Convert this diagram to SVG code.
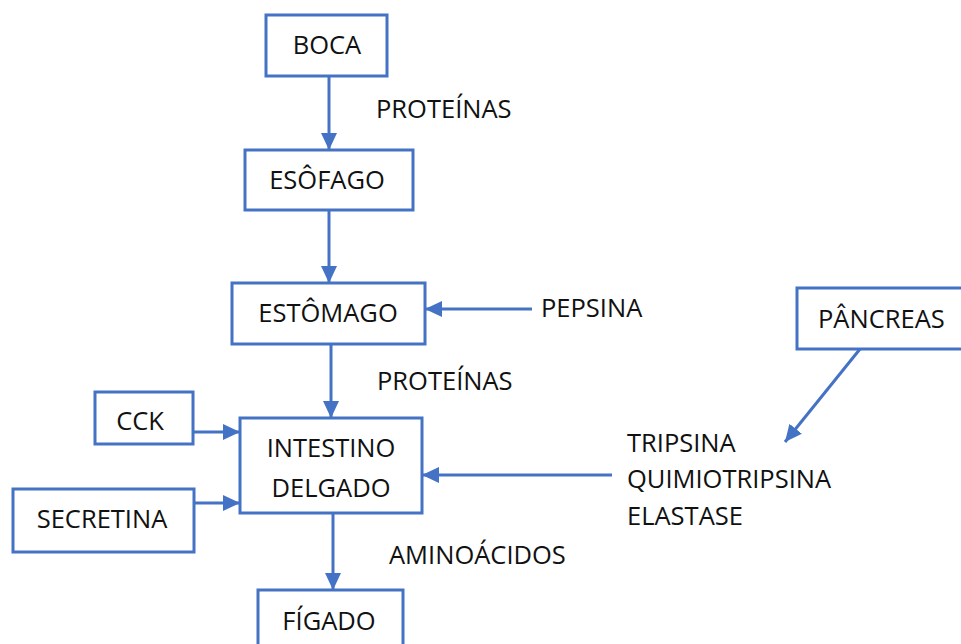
<svg xmlns="http://www.w3.org/2000/svg" width="961" height="644" viewBox="0 0 961 644">
<style>
.box{fill:#fff;stroke:#4472C4;stroke-width:3}
.lbl{font-family:"Open Sans","Liberation Sans",Arial,sans-serif;font-size:25.5px;fill:#111}
.c{text-anchor:middle}
.ln{stroke:#4472C4;stroke-width:3;fill:none;marker-end:url(#ah)}
</style>
<defs>
<marker id="ah" markerUnits="userSpaceOnUse" markerWidth="18" markerHeight="18" viewBox="0 0 18 18" refX="17" refY="9" orient="auto">
<path d="M0,1 L17,9 L0,17 Z" fill="#4472C4"/>
</marker>
</defs>
<rect width="961" height="644" fill="#fff"/>
<g id="connectors">
<line class="ln" x1="329" y1="76" x2="329" y2="150"/>
<line class="ln" x1="329" y1="210" x2="329" y2="283"/>
<line class="ln" x1="532" y1="309" x2="425" y2="309"/>
<line class="ln" x1="331" y1="344" x2="331" y2="418"/>
<line class="ln" x1="193" y1="432" x2="240" y2="432"/>
<line class="ln" x1="194" y1="503" x2="240" y2="503"/>
<line class="ln" x1="612" y1="475" x2="422" y2="475"/>
<line class="ln" x1="333" y1="513" x2="333" y2="590"/>
<line class="ln" x1="860" y1="349" x2="785" y2="442"/>
</g>
<g id="boca"><rect class="box" x="266" y="15" width="121" height="61"/><text class="lbl c" x="327" y="54">BOCA</text></g>
<g id="esofago"><rect class="box" x="245" y="150" width="168" height="60"/><text class="lbl c" x="327" y="189">ESÔFAGO</text></g>
<g id="estomago"><rect class="box" x="232" y="283" width="193" height="61"/><text class="lbl c" x="328" y="322">ESTÔMAGO</text></g>
<g id="intestino"><rect class="box" x="240" y="418" width="182" height="95"/><text class="lbl c" x="331" y="457">INTESTINO</text><text class="lbl c" x="331" y="497">DELGADO</text></g>
<g id="cck"><rect class="box" x="95" y="392" width="98" height="52"/><text class="lbl c" x="140" y="430">CCK</text></g>
<g id="secretina"><rect class="box" x="13" y="489" width="181" height="63"/><text class="lbl c" x="102" y="528">SECRETINA</text></g>
<g id="figado"><rect class="box" x="258" y="590" width="145" height="70"/><text class="lbl c" x="329" y="630">FÍGADO</text></g>
<g id="pancreas"><rect class="box" x="797" y="288" width="180" height="61"/><text class="lbl" x="818" y="328">PÂNCREAS</text></g>
<g id="labels">
<text class="lbl" x="376" y="118">PROTEÍNAS</text>
<text class="lbl" x="541" y="317">PEPSINA</text>
<text class="lbl" x="377" y="390">PROTEÍNAS</text>
<text class="lbl" x="389" y="564">AMINOÁCIDOS</text>
<text class="lbl" x="627" y="452">TRIPSINA</text>
<text class="lbl" x="627" y="488">QUIMIOTRIPSINA</text>
<text class="lbl" x="627" y="525">ELASTASE</text>
</g>
</svg>
